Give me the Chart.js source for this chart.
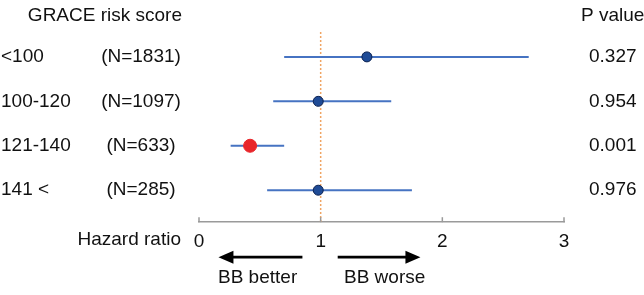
<!DOCTYPE html>
<html>
<head>
<meta charset="utf-8">
<script src="https://cdn.jsdelivr.net/npm/chart.js@4"></script>
<style>
  html, body { margin: 0; padding: 0; background: #fff; }
  #wrap { width: 644px; height: 295px; }
</style>
</head>
<body>
<div id="wrap"><canvas id="forestChart" width="644" height="295"></canvas></div>
<script>
// forest plot data
const groups = ['<100', '100-120', '121-140', '141 <'];
const counts = ['(N=1831)', '(N=1097)', '(N=633)', '(N=285)'];
const hazard = [1.38, 0.98, 0.42, 0.98];
const lower = [0.70, 0.61, 0.26, 0.56];
const upper = [2.71, 1.58, 0.70, 1.75];
const pValues = ['0.327', '0.954', '0.001', '0.976'];
const xTicks = [0, 1, 2, 3];

const FONT = '"Liberation Sans", Arial, Helvetica, sans-serif';
const FS = 19;

const rows = groups.map((g, i) => i + 1);
const isSig = pValues.map(p => parseFloat(p) < 0.05);

// one line dataset per confidence interval
const ciSets = rows.map((r, i) => ({
    type: 'line',
    data: [{ x: lower[i], y: r }, { x: upper[i], y: r }],
    borderColor: '#4673c2',
    borderWidth: 2,
    pointRadius: 0,
    showLine: true,
    order: 2
}));

const refLine = {
    type: 'line',
    data: [{ x: 1, y: 0.44 }, { x: 1, y: 4.72 }],
    borderColor: '#f0a463',
    borderWidth: 1.5,
    borderDash: [2, 2],
    pointRadius: 0,
    showLine: true,
    order: 3
};

const pointSet = {
    type: 'scatter',
    data: hazard.map((v, i) => ({ x: v, y: rows[i] })),
    pointBackgroundColor: isSig.map(s => s ? '#e8262b' : '#1f4b96'),
    pointBorderColor: isSig.map(s => s ? '#e8262b' : '#0b2150'),
    pointBorderWidth: 1,
    pointRadius: isSig.map(s => s ? 6.5 : 5),
    order: 1
};

// text columns, axis ticks and arrows
const annotations = {
    id: 'annotations',
    afterDraw(chart) {
        const ctx = chart.ctx;
        const x = chart.scales.x;
        const y = chart.scales.y;
        const axisY = chart.chartArea.bottom;
        ctx.save();

        // small upward ticks on the axis
        ctx.strokeStyle = '#9a9a9a';
        ctx.lineWidth = 1.5;
        xTicks.forEach(t => {
            const px = x.getPixelForValue(t);
            ctx.beginPath();
            ctx.moveTo(px, axisY);
            ctx.lineTo(px, axisY - 5);
            ctx.stroke();
        });

        ctx.fillStyle = '#111';
        ctx.font = FS + 'px ' + FONT;
        ctx.textBaseline = 'middle';

        const headY = 16;
        ctx.textAlign = 'right';
        ctx.fillText('GRACE risk score', 182, headY);
        ctx.textAlign = 'left';
        ctx.fillText('P value', 581, headY);

        rows.forEach((r, i) => {
            const py = y.getPixelForValue(r);
            ctx.textAlign = 'left';
            ctx.fillText(groups[i], 1, py);
            ctx.textAlign = 'center';
            ctx.fillText(counts[i], 141, py);
            ctx.textAlign = 'left';
            ctx.fillText(pValues[i], 589, py);
        });

        ctx.textAlign = 'right';
        ctx.fillText('Hazard ratio', 181, axisY + 18);

        // direction arrows
        const arrowY = axisY + 35;
        const drawArrow = (from, to) => {
            const x0 = x.getPixelForValue(from);
            const x1 = x.getPixelForValue(to);
            const dir = x1 > x0 ? 1 : -1;
            ctx.strokeStyle = '#000';
            ctx.lineWidth = 2.8;
            ctx.beginPath();
            ctx.moveTo(x0, arrowY);
            ctx.lineTo(x1 - dir * 10, arrowY);
            ctx.stroke();
            ctx.fillStyle = '#000';
            ctx.beginPath();
            ctx.moveTo(x1, arrowY);
            ctx.lineTo(x1 - dir * 15, arrowY - 6.5);
            ctx.lineTo(x1 - dir * 15, arrowY + 6.5);
            ctx.closePath();
            ctx.fill();
        };
        drawArrow(0.85, 0.16);
        drawArrow(1.14, 1.82);

        ctx.fillStyle = '#111';
        ctx.textAlign = 'left';
        ctx.fillText('BB better', 218, axisY + 56);
        ctx.fillText('BB worse', 344, axisY + 56);
        ctx.restore();
    }
};

new Chart(document.getElementById('forestChart').getContext('2d'), {
    type: 'scatter',
    data: {
        datasets: [pointSet, ...ciSets, refLine]
    },
    options: {
        responsive: false,
        animation: false,
        layout: {
            padding: { left: 199, right: 80, top: 32, bottom: 34 }
        },
        plugins: {
            legend: { display: false },
            tooltip: { enabled: false }
        },
        scales: {
            x: {
                type: 'linear',
                min: 0,
                max: 3,
                afterBuildTicks: axis => {
                    axis.ticks = xTicks.map(v => ({ value: v }));
                },
                border: { display: true, color: '#9a9a9a', width: 1.5 },
                grid: { display: true, drawOnChartArea: false, drawTicks: false },
                ticks: {
                    color: '#111',
                    padding: 8,
                    maxRotation: 0,
                    font: { family: FONT, size: FS }
                }
            },
            y: {
                type: 'linear',
                display: false,
                reverse: true,
                min: 0.44,
                max: 4.72
            }
        }
    },
    plugins: [annotations]
});
</script>
</body>
</html>
